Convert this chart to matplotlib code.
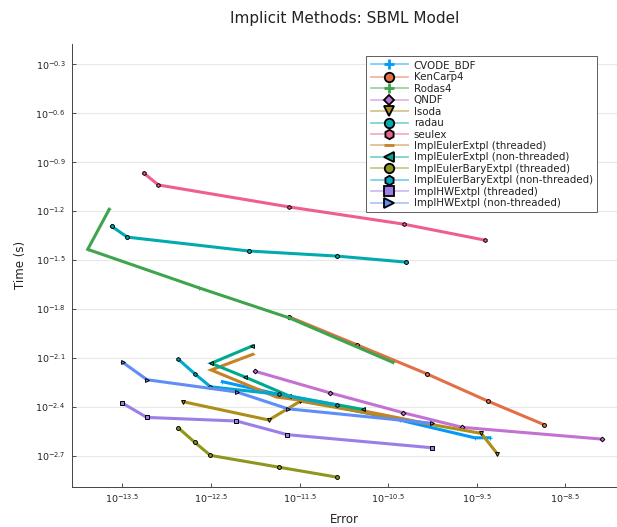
"""Work-precision diagram for implicit solvers on the SBML model."""

import matplotlib.pyplot as plt
import numpy as np
from matplotlib.colors import to_rgba
from matplotlib.lines import Line2D
from matplotlib.ticker import NullLocator

# log10(error), log10(time in s) for each solver
cvode_err = [-12.37, -11.50, -10.37, -9.52, -9.35]
cvode_time = [-2.247, -2.353, -2.482, -2.591, -2.591]

kencarp_err = [-11.613, -10.845, -10.065, -9.372, -8.735]
kencarp_time = [-1.850, -2.022, -2.198, -2.366, -2.511]

rodas_err = [-13.650, -13.892, -12.630, -11.613, -10.446]
rodas_time = [-1.190, -1.435, -1.672, -1.856, -2.128]

qndf_err = [-12.001, -11.158, -10.331, -9.662, -8.088]
qndf_time = [-2.183, -2.315, -2.437, -2.527, -2.599]

lsoda_err = [-12.811, -11.847, -11.489, -9.447, -9.266]
lsoda_time = [-2.370, -2.482, -2.366, -2.564, -2.689]

radau_err = [-13.621, -13.444, -12.073, -11.082, -10.302]
radau_time = [-1.294, -1.360, -1.445, -1.476, -1.513]

seulex_err = [-13.259, -13.093, -11.613, -10.325, -9.410]
seulex_time = [-0.967, -1.040, -1.175, -1.280, -1.378]

ie_thr_err = [-12.028, -12.498, -11.760, -11.161, -10.031]
ie_thr_time = [-2.079, -2.175, -2.341, -2.384, -2.507]

ie_seq_err = [-12.034, -12.498, -12.121, -11.613, -10.785]
ie_seq_time = [-2.028, -2.134, -2.217, -2.335, -2.417]

ieb_thr_err = [-12.867, -12.683, -12.506, -11.726, -11.082]
ieb_thr_time = [-2.531, -2.619, -2.699, -2.772, -2.832]

ieb_seq_err = [-12.867, -12.679, -12.506, -11.726, -11.074]
ieb_seq_time = [-2.110, -2.200, -2.278, -2.325, -2.392]

hw_thr_err = [-13.500, -13.225, -12.212, -11.636, -10.005]
hw_thr_time = [-2.378, -2.466, -2.488, -2.572, -2.652]

hw_seq_err = [-13.497, -13.221, -12.208, -11.632, -10.005]
hw_seq_time = [-2.128, -2.235, -2.310, -2.413, -2.502]

labels = [
    "CVODE_BDF", "KenCarp4", "Rodas4", "QNDF", "lsoda", "radau", "seulex",
    "ImplEulerExtpl (threaded)", "ImplEulerExtpl (non-threaded)",
    "ImplEulerBaryExtpl (threaded)", "ImplEulerBaryExtpl (non-threaded)",
    "ImplHWExtpl (threaded)", "ImplHWExtpl (non-threaded)",
]
series = [
    (cvode_err, cvode_time), (kencarp_err, kencarp_time), (rodas_err, rodas_time),
    (qndf_err, qndf_time), (lsoda_err, lsoda_time), (radau_err, radau_time),
    (seulex_err, seulex_time), (ie_thr_err, ie_thr_time), (ie_seq_err, ie_seq_time),
    (ieb_thr_err, ieb_thr_time), (ieb_seq_err, ieb_seq_time),
    (hw_thr_err, hw_thr_time), (hw_seq_err, hw_seq_time),
]

x_tick_exp = [-13.5, -12.5, -11.5, -10.5, -9.5, -8.5]
y_tick_exp = [-2.7, -2.4, -2.1, -1.8, -1.5, -1.2, -0.9, -0.6, -0.3]

colors = [
    "#009AFA", "#E36F47", "#3EA44E", "#C371D2", "#AC8E18", "#00AAAE", "#ED5E93",
    "#C68225", "#00A98D", "#8E971D", "#00A8CB", "#9B7FE9", "#618DF6",
]
markers = ["+", "o", "+", "D", "v", "o", "h", "_", "<", "o", "h", "s", ">"]

fig = plt.figure(figsize=(6.17, 5.27), dpi=100)
ax = fig.add_axes([0.1172, 0.0765, 0.8828, 0.84])

handles = []
for (err, tm), color, marker, label in zip(series, colors, markers, labels):
    x = np.power(10.0, err)
    y = np.power(10.0, tm)
    open_marker = marker not in ("+", "_")
    ax.plot(
        x, y,
        color=color,
        linewidth=2.2,
        marker=marker,
        markersize=2.8 if marker != "D" else 2.4,
        markerfacecolor=color,
        markeredgecolor="black" if open_marker else color,
        markeredgewidth=0.7 if open_marker else 0.6,
        solid_joinstyle="miter",
        zorder=3,
    )
    r, g, b, _ = to_rgba(color)
    size = 7.5 if marker in ("v", "<", ">") else 6.8
    if marker == "D":
        size = 5.2
    handles.append(
        Line2D(
            [], [],
            color=(r, g, b, 0.5),
            linewidth=1.3,
            marker=marker,
            markersize=size if marker != "_" else 7,
            markerfacecolor=color,
            markeredgecolor="black" if open_marker else color,
            markeredgewidth=1.3 if open_marker else 2.0,
            label=label,
        )
    )

ax.set_xscale("log")
ax.set_yscale("log")
ax.set_xlim(10 ** -14.066, 10 ** -7.914)
ax.set_ylim(10 ** -2.891, 10 ** -0.175)

ax.set_xticks(np.power(10.0, x_tick_exp), [rf"$10^{{{e}}}$" for e in x_tick_exp])
ax.set_yticks(np.power(10.0, y_tick_exp), [rf"$10^{{{e}}}$" for e in y_tick_exp])
ax.xaxis.set_minor_locator(NullLocator())
ax.yaxis.set_minor_locator(NullLocator())
ax.tick_params(direction="in", length=3, width=0.6, color="#333333",
               labelsize=6.8, labelcolor="#222222")
ax.tick_params(axis="x", pad=4)
ax.tick_params(axis="y", pad=5)

ax.grid(axis="y", color="#E8E8E8", linewidth=0.8, zorder=0)
for side in ("top", "right"):
    ax.spines[side].set_visible(False)
for side in ("left", "bottom"):
    ax.spines[side].set_color("#444444")
    ax.spines[side].set_linewidth(0.7)

ax.set_xlabel("Error", fontsize=8.5, color="#222222", labelpad=6)
ax.set_ylabel("Time (s)", fontsize=8.5, color="#222222", labelpad=6)
ax.set_title("Implicit Methods: SBML Model", fontsize=11, color="#222222", pad=15)

leg = ax.legend(
    handles=handles,
    loc="upper left",
    bbox_to_anchor=(0.540, 0.973),
    fontsize=7.4,
    frameon=True,
    fancybox=False,
    framealpha=1.0,
    edgecolor="#444444",
    handlelength=3.6,
    handletextpad=0.6,
    labelspacing=0.14,
    borderpad=0.4,
    borderaxespad=0.0,
)
leg.get_frame().set_linewidth(0.6)
for txt in leg.get_texts():
    txt.set_color("#222222")

fig.savefig("out.png", dpi=100, facecolor="white")
